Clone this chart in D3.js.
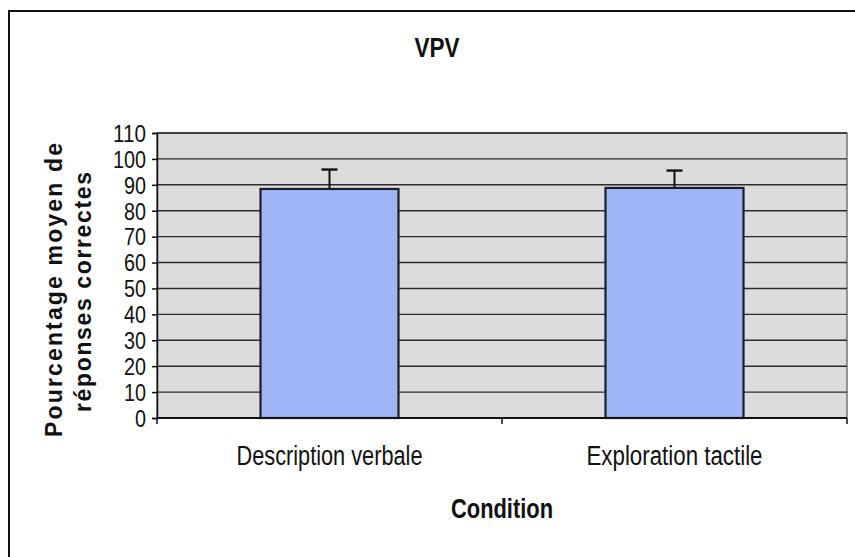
<!DOCTYPE html>
<html>
<head>
<meta charset="utf-8">
<script src="https://cdn.jsdelivr.net/npm/d3@7"></script>
<style>
  body { margin: 0; background: #fff; }
  svg { display: block; font-family: "Liberation Sans", Arial, sans-serif; }
</style>
</head>
<body>
<div id="chart"></div>
<script>
// Data
const categories = ["Description verbale", "Exploration tactile"];
const means = [88.4, 88.8];
const errors = [7.5, 6.7];
const yTicks = [0, 10, 20, 30, 40, 50, 60, 70, 80, 90, 100, 110];

const width = 855, height = 557;
const margin = {top: 133, right: 8, bottom: 139, left: 157};
const plotW = width - margin.left - margin.right;
const plotH = height - margin.top - margin.bottom;

const svg = d3.select("#chart").append("svg")
    .attr("width", width)
    .attr("height", height);

// outer frame (only top and left edges visible in the scan)
svg.append("path")
    .attr("d", "M9,557 V11 H855")
    .attr("fill", "none")
    .attr("stroke", "#111")
    .attr("stroke-width", 2);

const g = svg.append("g")
    .attr("transform", "translate(" + margin.left + "," + margin.top + ")");

const x = d3.scaleBand()
    .domain(categories)
    .range([0, plotW])
    .paddingInner(0.6)
    .paddingOuter(0.3);

const y = d3.scaleLinear()
    .domain([0, 110])
    .range([plotH, 0]);

// plot background
g.append("rect")
    .attr("width", plotW)
    .attr("height", plotH)
    .attr("fill", "#dcdcdc")
    .attr("stroke", "#555")
    .attr("stroke-width", 1.2);

// gridlines
g.selectAll(".grid")
    .data(yTicks.filter(function(d) { return d > 0; }))
    .enter().append("line")
    .attr("class", "grid")
    .attr("x1", 0)
    .attr("x2", plotW)
    .attr("y1", function(d) { return y(d); })
    .attr("y2", function(d) { return y(d); })
    .attr("stroke", "#2a2a2a")
    .attr("stroke-width", 1.4);

// bars
g.selectAll(".bar")
    .data(categories)
    .enter().append("rect")
    .attr("class", "bar")
    .attr("x", function(d) { return x(d); })
    .attr("y", function(d, i) { return y(means[i]); })
    .attr("width", x.bandwidth())
    .attr("height", function(d, i) { return plotH - y(means[i]); })
    .attr("fill", "#9fb5f7")
    .attr("stroke", "#1b1d2b")
    .attr("stroke-width", 2.2);

// error bars (upper only)
const errG = g.selectAll(".err")
    .data(categories)
    .enter().append("g")
    .attr("class", "err");

errG.append("line")
    .attr("x1", function(d) { return x(d) + x.bandwidth() / 2; })
    .attr("x2", function(d) { return x(d) + x.bandwidth() / 2; })
    .attr("y1", function(d, i) { return y(means[i]); })
    .attr("y2", function(d, i) { return y(means[i] + errors[i]); })
    .attr("stroke", "#111")
    .attr("stroke-width", 2);

errG.append("line")
    .attr("x1", function(d) { return x(d) + x.bandwidth() / 2 - 8; })
    .attr("x2", function(d) { return x(d) + x.bandwidth() / 2 + 8; })
    .attr("y1", function(d, i) { return y(means[i] + errors[i]); })
    .attr("y2", function(d, i) { return y(means[i] + errors[i]); })
    .attr("stroke", "#111")
    .attr("stroke-width", 2.4);

// y axis
const yAxis = g.append("g")
    .call(d3.axisLeft(y).tickValues(yTicks).tickSize(5).tickPadding(6));
yAxis.select(".domain").attr("stroke", "#111").attr("stroke-width", 1.5);
yAxis.selectAll(".tick line").attr("stroke", "#111").attr("stroke-width", 1.5);
yAxis.selectAll("text")
    .attr("fill", "#111")
    .style("font-size", "23px")
    .attr("textLength", function(d) { return String(d).length * 11; })
    .attr("lengthAdjust", "spacingAndGlyphs")
    .attr("dy", "0.36em");

// x axis: ticks at category boundaries
const xAxisG = g.append("g")
    .attr("transform", "translate(0," + plotH + ")");
xAxisG.append("line")
    .attr("x1", 0).attr("x2", plotW)
    .attr("stroke", "#111").attr("stroke-width", 1.8);
xAxisG.selectAll(".xtick")
    .data([0].concat(categories.map(function(d) { return x(d) + x.bandwidth() / 2 + x.step() / 2; })))
    .enter().append("line")
    .attr("x1", function(d) { return d; })
    .attr("x2", function(d) { return d; })
    .attr("y1", 0).attr("y2", 6)
    .attr("stroke", "#111").attr("stroke-width", 1.5);

const labelWidths = [186, 176];
xAxisG.selectAll(".xlabel")
    .data(categories)
    .enter().append("text")
    .attr("x", function(d) { return x(d) + x.bandwidth() / 2; })
    .attr("y", 47)
    .attr("text-anchor", "middle")
    .attr("textLength", function(d, i) { return labelWidths[i]; })
    .attr("lengthAdjust", "spacingAndGlyphs")
    .style("font-size", "27px")
    .attr("fill", "#111")
    .text(function(d) { return d; });

// title
svg.append("text")
    .attr("x", 437)
    .attr("y", 57)
    .attr("text-anchor", "middle")
    .attr("textLength", 45)
    .attr("lengthAdjust", "spacingAndGlyphs")
    .style("font-size", "27px")
    .style("font-weight", "bold")
    .attr("fill", "#111")
    .text("VPV");

// x axis title
svg.append("text")
    .attr("x", 502)
    .attr("y", 518)
    .attr("text-anchor", "middle")
    .attr("textLength", 102)
    .attr("lengthAdjust", "spacingAndGlyphs")
    .style("font-size", "27px")
    .style("font-weight", "bold")
    .attr("fill", "#111")
    .text("Condition");

// y axis title (two lines, letter-spaced)
const yTitle = ["Pourcentage moyen de", "réponses correctes"];
const yTitleX = [62, 91];
const yTitleY = [290, 292];
const yTitleLen = [294, 240];
svg.selectAll(".ytitle")
    .data(yTitle)
    .enter().append("text")
    .attr("transform", function(d, i) { return "translate(" + yTitleX[i] + "," + yTitleY[i] + ") rotate(-90)"; })
    .attr("text-anchor", "middle")
    .attr("textLength", function(d, i) { return yTitleLen[i]; })
    .attr("lengthAdjust", "spacing")
    .style("font-size", "23px")
    .style("font-weight", "bold")
    .attr("fill", "#111")
    .text(function(d) { return d; });
</script>
</body>
</html>
